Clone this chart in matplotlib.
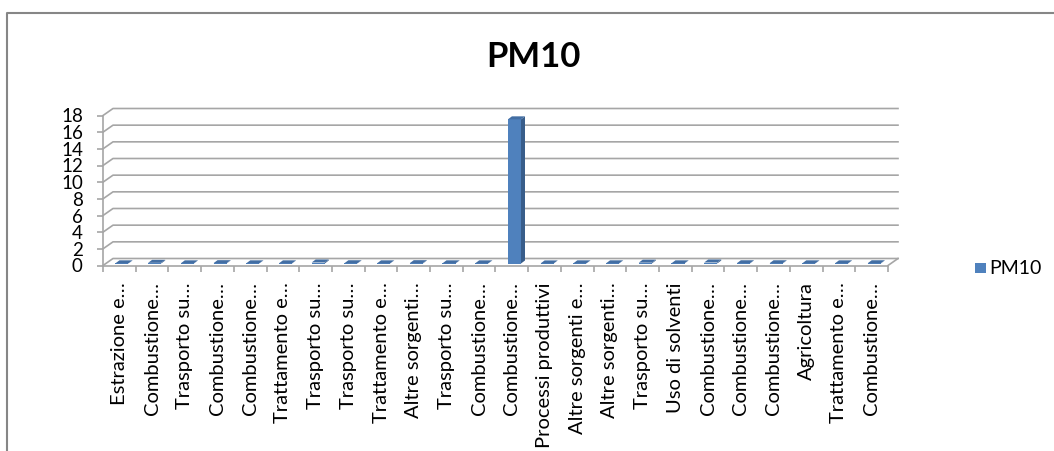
import matplotlib
matplotlib.use("Agg")
import matplotlib.pyplot as plt
from matplotlib.patches import Polygon
from matplotlib.lines import Line2D

plt.rcParams['font.family'] = ['Lato', 'DejaVu Sans']

# data
categories = ["Estrazione e…", "Combustione…", "Trasporto su…", "Combustione…",
              "Combustione…", "Trattamento e…", "Trasporto su…", "Trasporto su…",
              "Trattamento e…", "Altre sorgenti…", "Trasporto su…", "Combustione…",
              "Combustione…", "Processi produttivi", "Altre sorgenti e…", "Altre sorgenti…",
              "Trasporto su…", "Uso di solventi", "Combustione…", "Combustione…",
              "Combustione…", "Agricoltura", "Trattamento e…", "Combustione…"]
pm10 = [0.02, 0.08, 0.02, 0.04, 0.02, 0.02, 0.12, 0.03, 0.02, 0.04, 0.02, 0.02,
        17.3, 0.01, 0.02, 0.02, 0.1, 0.02, 0.12, 0.03, 0.03, 0.02, 0.02, 0.03]
yticks = list(range(0, 19, 2))

W, H = 1054, 451
fig = plt.figure(figsize=(W / 100, H / 100), dpi=100)

# axes box in pixels (front plane)
left_px, right_px, zero_px, top_px = 103, 888, 265.5, 115.5
ax = fig.add_axes([left_px / W, 1 - zero_px / H, (right_px - left_px) / W, (zero_px - top_px) / H])
n = len(categories)
ax.set_xlim(-0.5, n - 0.5)
ax.set_ylim(0, 18)

ux = (right_px - left_px) / n      # px per category
uy = (zero_px - top_px) / 18       # px per unit

def px(dx, dy):
    return dx / ux, dy / uy

grid_c = '#a6a6a6'
# back wall depth
gdx, gdy = px(10, 7)
for y in yticks:
    ax.plot([-0.5, -0.5 + gdx, n - 0.5 + gdx], [y, y + gdy, y + gdy],
            color=grid_c, lw=1.2, clip_on=False, zorder=1)
# floor right edge
ax.plot([n - 0.5, n - 0.5 + gdx], [0, gdy], color=grid_c, lw=1.2, clip_on=False, zorder=1)

# 3d bars
ox, oy = px(2.6, 2)
bx, by = px(4, 3)
w = 0.4
for i, v in enumerate(pm10):
    x0 = i - w / 2 + ox
    x1 = i + w / 2 + ox
    y0 = oy
    y1 = v + oy
    front = Polygon([(x0, y0), (x1, y0), (x1, y1), (x0, y1)], closed=True,
                    fc='#4f81bd', ec='none', clip_on=False, zorder=3)
    side = Polygon([(x1, y0), (x1 + bx, y0 + by), (x1 + bx, y1 + by), (x1, y1)], closed=True,
                   fc='#385d8a', ec='none', clip_on=False, zorder=3)
    top = Polygon([(x0, y1), (x1, y1), (x1 + bx, y1 + by), (x0 + bx, y1 + by)], closed=True,
                  fc='#436ea3', ec='none', clip_on=False, zorder=4)
    for p in (front, side, top):
        ax.add_patch(p)

for s in ['top', 'right']:
    ax.spines[s].set_visible(False)
for s in ['left', 'bottom']:
    ax.spines[s].set_color(grid_c)
    ax.spines[s].set_linewidth(1.2)

ax.set_yticks(yticks)
ax.tick_params(axis='y', length=4.5, color=grid_c, width=1.2, pad=10, labelsize=13.5)

ax.set_xticks([i - 0.5 for i in range(n + 1)])
ax.set_xticklabels([])
ax.set_xticks(range(n), minor=True)
ax.set_xticklabels(categories, minor=True, rotation=90, fontsize=14.5)
ax.tick_params(axis='x', which='major', length=4.5, color=grid_c, width=1.2, direction='out')
ax.tick_params(axis='x', which='minor', length=0, pad=12)

# title
fig.text(533 / W, 1 - 57 / H, 'PM10', ha='center', va='center', fontsize=25, fontweight='bold')

# legend
fig.patches.append(plt.Rectangle((975 / W, 1 - 273 / H), 10.5 / W, 10.5 / H, fc='#4f81bd', ec='none',
                                 transform=fig.transFigure, figure=fig))
fig.text(989 / W, 1 - 268 / H, 'PM10', ha='left', va='center', fontsize=14)

# chart border
bc = '#868686'
fig.add_artist(Line2D([7 / W, 7 / W, 1], [0, 1 - 13 / H, 1 - 13 / H], color=bc, lw=1.5,
                      transform=fig.transFigure))

fig.savefig('out.png', dpi=100)
